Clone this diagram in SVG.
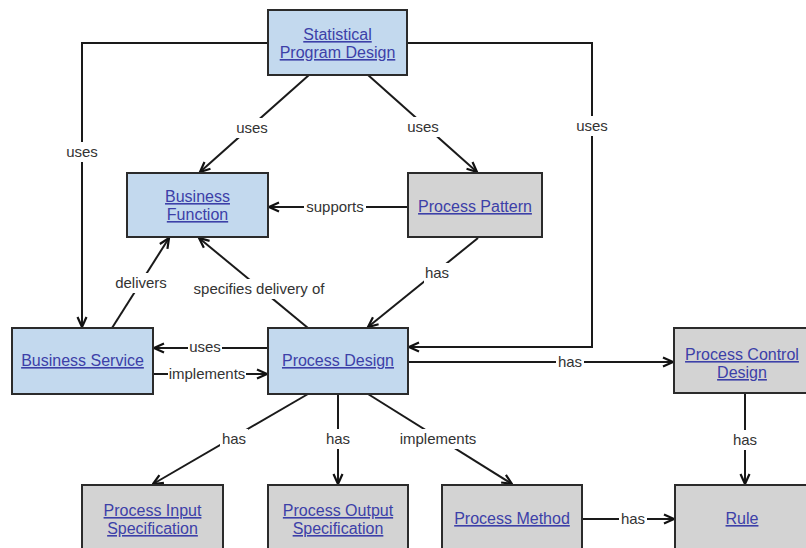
<svg xmlns="http://www.w3.org/2000/svg" width="806" height="548" viewBox="0 0 806 548">
<style>
.box{stroke:#2b2b2b;stroke-width:2}
.blue{fill:#c3d9ee}
.grey{fill:#d3d3d3}
.nt{font-family:"Liberation Sans",Arial,sans-serif;font-size:16px;fill:#3c40a8;text-decoration:underline;text-anchor:middle}
.ln{fill:none;stroke:#1a1a1a;stroke-width:2}
.lb{font-family:"Liberation Sans",Arial,sans-serif;font-size:15px;fill:#333;text-anchor:middle}
.bg{fill:#fff}
</style>
<defs>
<marker id="arr" markerUnits="userSpaceOnUse" viewBox="0 0 12 12" refX="11" refY="6" markerWidth="12" markerHeight="12" orient="auto">
<path d="M1,1.5 L11,6 L1,10.5" fill="none" stroke="#111" stroke-width="2.2"/>
</marker>
</defs>
<rect width="806" height="548" fill="#fff"/>
<g id="connectors">
<path class="ln" d="M268,43 H82 V327" marker-end="url(#arr)"/>
<path class="ln" d="M407,43 H592 V347 H409" marker-end="url(#arr)"/>
<path class="ln" d="M309,75 L200,172" marker-end="url(#arr)"/>
<path class="ln" d="M368,75 L477,172" marker-end="url(#arr)"/>
<path class="ln" d="M408,207 H269" marker-end="url(#arr)"/>
<path class="ln" d="M478,238 L368,327" marker-end="url(#arr)"/>
<path class="ln" d="M112,328 L169,238" marker-end="url(#arr)"/>
<path class="ln" d="M308,328 L199,238" marker-end="url(#arr)"/>
<path class="ln" d="M268,348 H154" marker-end="url(#arr)"/>
<path class="ln" d="M153,374 H267" marker-end="url(#arr)"/>
<path class="ln" d="M408,362 H673" marker-end="url(#arr)"/>
<path class="ln" d="M745,393 V484" marker-end="url(#arr)"/>
<path class="ln" d="M308,394 L153,484" marker-end="url(#arr)"/>
<path class="ln" d="M338,394 V484" marker-end="url(#arr)"/>
<path class="ln" d="M368,394 L512,484" marker-end="url(#arr)"/>
<path class="ln" d="M582,519 H674" marker-end="url(#arr)"/>
<rect class="bg" x="65" y="142" width="34" height="20"/><text class="lb" x="82" y="157">uses</text>
<rect class="bg" x="235" y="118" width="34" height="20"/><text class="lb" x="252" y="133">uses</text>
<rect class="bg" x="406" y="117" width="34" height="20"/><text class="lb" x="423" y="132">uses</text>
<rect class="bg" x="575" y="116" width="34" height="20"/><text class="lb" x="592" y="131">uses</text>
<rect class="bg" x="304" y="197" width="62" height="20"/><text class="lb" x="335" y="212">supports</text>
<rect class="bg" x="111" y="273" width="60" height="20"/><text class="lb" x="141" y="288">delivers</text>
<rect class="bg" x="184" y="279" width="150" height="20"/><text class="lb" x="259" y="294">specifies delivery of</text>
<rect class="bg" x="424" y="263" width="27" height="20"/><text class="lb" x="437" y="278">has</text>
<rect class="bg" x="188" y="338" width="34" height="20"/><text class="lb" x="205" y="352">uses</text>
<rect class="bg" x="168" y="364" width="78" height="20"/><text class="lb" x="207" y="379">implements</text>
<rect class="bg" x="556" y="352" width="28" height="20"/><text class="lb" x="570" y="367">has</text>
<rect class="bg" x="731" y="430" width="28" height="20"/><text class="lb" x="745" y="445">has</text>
<rect class="bg" x="220" y="429" width="28" height="20"/><text class="lb" x="234" y="444">has</text>
<rect class="bg" x="324" y="429" width="28" height="20"/><text class="lb" x="338" y="444">has</text>
<rect class="bg" x="398" y="429" width="80" height="20"/><text class="lb" x="438" y="444">implements</text>
<rect class="bg" x="619" y="509" width="28" height="20"/><text class="lb" x="633" y="524">has</text>
</g>
<g id="statistical-program-design">
<rect class="box blue" x="268" y="10" width="139" height="65"/>
<text class="nt" x="337.5" y="40">Statistical</text>
<text class="nt" x="337.5" y="58">Program Design</text>
</g>
<g id="business-function">
<rect class="box blue" x="127" y="173" width="141" height="64"/>
<text class="nt" x="197.5" y="202">Business</text>
<text class="nt" x="197.5" y="220">Function</text>
</g>
<g id="process-pattern">
<rect class="box grey" x="408" y="173" width="134" height="64"/>
<text class="nt" x="475" y="212">Process Pattern</text>
</g>
<g id="business-service">
<rect class="box blue" x="12" y="328" width="141" height="66"/>
<text class="nt" x="82.5" y="366">Business Service</text>
</g>
<g id="process-design">
<rect class="box blue" x="268" y="328" width="140" height="66"/>
<text class="nt" x="338" y="366">Process Design</text>
</g>
<g id="process-control-design">
<rect class="box grey" x="674" y="328" width="136" height="65"/>
<text class="nt" x="742" y="360">Process Control</text>
<text class="nt" x="742" y="378">Design</text>
</g>
<g id="process-input-specification">
<rect class="box grey" x="82" y="485" width="141" height="70"/>
<text class="nt" x="152.5" y="516">Process Input</text>
<text class="nt" x="152.5" y="534">Specification</text>
</g>
<g id="process-output-specification">
<rect class="box grey" x="268" y="485" width="140" height="70"/>
<text class="nt" x="338" y="516">Process Output</text>
<text class="nt" x="338" y="534">Specification</text>
</g>
<g id="process-method">
<rect class="box grey" x="442" y="485" width="140" height="70"/>
<text class="nt" x="512" y="524">Process Method</text>
</g>
<g id="rule">
<rect class="box grey" x="675" y="485" width="135" height="70"/>
<text class="nt" x="742" y="524">Rule</text>
</g>
</svg>
